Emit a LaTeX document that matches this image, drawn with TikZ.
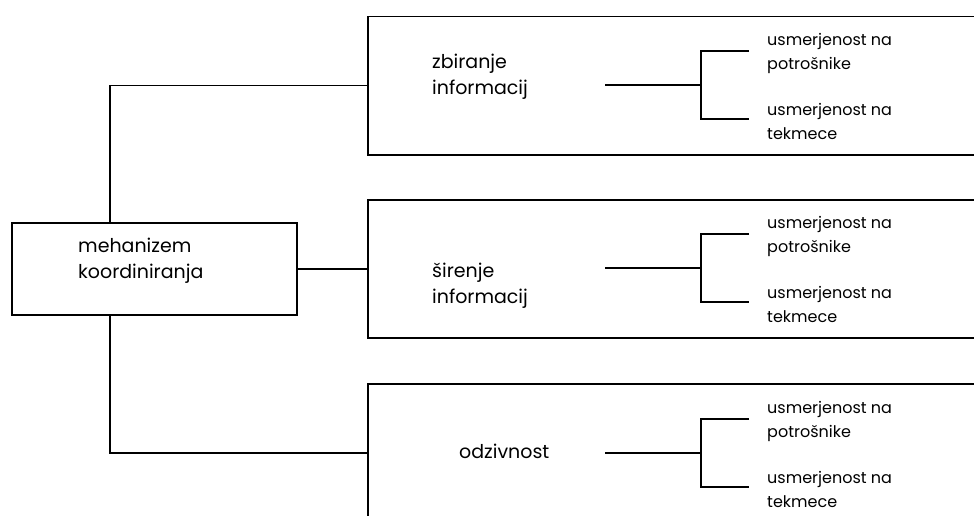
\documentclass[tikz,border=0pt]{standalone}
\usepackage{fontspec}
\setmainfont{Poppins}
\begin{document}
\begin{tikzpicture}[x=1pt,y=-1pt,
  frame/.style={draw=black,line width=1.5pt,rectangle,inner sep=0pt,anchor=north west},
  wire/.style={draw=black,line width=1.5pt},
  big/.style={font=\fontsize{19}{26}\selectfont,align=left,inner sep=0pt,anchor=base west},
  small/.style={font=\fontsize{16}{24}\selectfont,align=left,inner sep=0pt,anchor=west}]
\useasboundingbox (0,0) rectangle (974,516);

% root box
\node[frame,minimum width=285pt,minimum height=92pt] (root) at (11,222) {};
% base of a multi-line node is the baseline of its last line
\node[big] (roottxt) at (78,278) {mehanizem\\koordiniranja};

% three open frames running off the right edge
\node[frame,minimum width=640pt,minimum height=138pt] (b1) at (367,16) {};
\node[frame,minimum width=640pt,minimum height=138pt] (b2) at (367,199) {};
\node[frame,minimum width=640pt,minimum height=160pt] (b3) at (367,383) {};

\node[big] (t1) at (432,95) {zbiranje\\informacij};
\node[big] (t2) at (432,303) {širenje\\informacij};
\node[big] (t3) at (459,458) {odzivnost};

% connectors from the root
\coordinate (j) at (110,0);
\draw[wire] (j |- root.north) |- (b1.west);
\draw[wire] (root.east) -- (b2.west);
\coordinate (m3) at (367,453);
\draw[wire] (j |- root.south) |- (m3);

% brackets with the two orientations
\foreach \k/\y in {1/85,2/268,3/453}{
  \coordinate (s\k) at (605,\y);
  \coordinate (f\k) at (701,\y);
  \coordinate (u\k) at (749,\y-34);
  \coordinate (d\k) at (749,\y+34);
  \draw[wire] (s\k) -- (f\k);
  \draw[wire] (u\k) -| (f\k) |- (d\k);
  \node[small] (p\k) at (767,\y-32) {usmerjenost na\\potrošnike};
  \node[small] (q\k) at (767,\y+36) {usmerjenost na\\tekmece};
}
\end{tikzpicture}
\end{document}
